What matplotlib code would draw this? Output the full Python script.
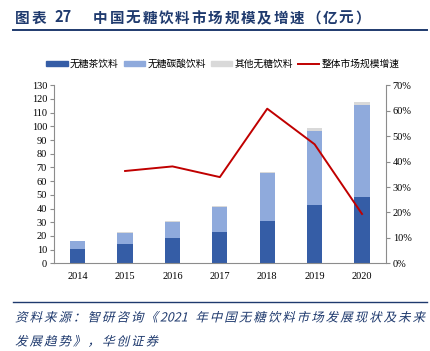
import matplotlib
matplotlib.use("Agg")
import re
import matplotlib.pyplot as plt
from matplotlib.patches import Patch
from matplotlib.lines import Line2D
from matplotlib.patheffects import AbstractPathEffect
from matplotlib.transforms import Affine2D
from matplotlib.textpath import TextToPath
from matplotlib.font_manager import FontProperties
import numpy as np

plt.rcParams['font.family'] = ['Noto Sans CJK SC', 'DejaVu Sans']

years = ['2014', '2015', '2016', '2017', '2018', '2019', '2020']
tea = [10.2, 14.1, 18.3, 22.9, 30.9, 42.4, 48.4]
carbonated = [5.9, 7.8, 11.9, 18.0, 34.8, 54.5, 67.0]
other = [0.5, 0.7, 0.7, 1.0, 1.0, 1.9, 2.4]
growth_years = ['2015', '2016', '2017', '2018', '2019', '2020']
growth = [36.3, 38.1, 33.9, 60.8, 46.8, 19.4]

c_tea = '#355DA6'
c_carb = '#8FAADC'
c_other = '#D9D9D9'
c_line = '#C00000'
c_text = '#1F3A6E'
c_axis = '#8C8C8C'

W, H = 430, 351

class Skew(AbstractPathEffect):
    def __init__(self, deg=14):
        super().__init__()
        self.deg = deg
    def draw_path(self, renderer, gc, tpath, affine, rgbFace=None):
        renderer.draw_path(gc, tpath, Affine2D().skew_deg(self.deg, 0) + affine, rgbFace)

_t2p = TextToPath()

def spaced_text(fig, x0, x1, ybase, s, fontsize, weight='normal', skew=None, **kw):
    fp = FontProperties(family='Noto Sans CJK SC', size=fontsize, weight=weight)
    tokens = re.findall(r'[0-9]+|.', s)
    widths = []
    for tk in tokens:
        if tk == ' ':
            widths.append(fontsize * 0.3 * 100 / 72)
        else:
            wpt, _, _ = _t2p.get_text_width_height_descent(tk, fp, ismath=False)
            widths.append(wpt * 100 / 72)
    natural = sum(widths)
    extra = (x1 - x0 - natural) / max(len(tokens) - 1, 1)
    cx = x0
    for tk, wd in zip(tokens, widths):
        if tk != ' ':
            t = fig.text(cx / W, 1 - ybase / H, tk, fontproperties=fp, va='baseline', ha='left', **kw)
            if skew:
                t.set_path_effects([Skew(skew)])
        cx += wd + extra

fig = plt.figure(figsize=(4.3, 3.51), dpi=100)
ax = fig.add_axes([54/W, 1-263.3/H, (385.7-54)/W, (263.3-85.3)/H])

x = np.arange(len(years))
w = 0.32
b1 = np.array(tea)
b2 = b1 + np.array(carbonated)
ax.bar(x, tea, w, color=c_tea, zorder=2)
ax.bar(x, carbonated, w, bottom=b1, color=c_carb, zorder=2)
ax.bar(x, other, w, bottom=b2, color=c_other, zorder=2)

ax.set_xlim(-0.5, 6.5)
ax.set_ylim(0, 130)
ax.set_yticks(np.arange(0, 131, 10))
ax.set_xticks(x)
ax.set_xticklabels(years, fontfamily='Liberation Serif', fontsize=7.5)
for lab in ax.get_yticklabels():
    lab.set_fontfamily('Liberation Serif')
    lab.set_fontsize(7.5)
ax.tick_params(axis='x', length=0, pad=6)
ax.tick_params(axis='y', length=3, color=c_axis, pad=2)
for s in ['top', 'right']:
    ax.spines[s].set_visible(False)
for s in ['left', 'bottom']:
    ax.spines[s].set_color(c_axis)
    ax.spines[s].set_linewidth(0.8)

ax2 = ax.twinx()
gx = [years.index(y) for y in growth_years]
ax2.plot(gx, growth, color=c_line, lw=1.4, zorder=3)
ax2.set_ylim(0, 70)
ax2.set_yticks(np.arange(0, 71, 10))
ax2.set_yticklabels([f'{v}%' for v in range(0, 71, 10)], fontfamily='Liberation Serif', fontsize=7.5)
ax2.tick_params(axis='y', length=3, color=c_axis, pad=2)
for s in ['top', 'left', 'bottom']:
    ax2.spines[s].set_visible(False)
ax2.spines['right'].set_color(c_axis)
ax2.spines['right'].set_linewidth(0.8)

handles = [Patch(color=c_tea), Patch(color=c_carb), Patch(color=c_other),
           Line2D([], [], color=c_line, lw=1.4)]
labels = ['无糖茶饮料', '无糖碳酸饮料', '其他无糖饮料', '整体市场规模增速']
fig.legend(handles, labels, loc='center', bbox_to_anchor=(223/W, 1-64/H), ncol=4,
           frameon=False, fontsize=7, handlelength=2.2, handleheight=0.55,
           handletextpad=0.25, columnspacing=0.5, borderpad=0)

# title
spaced_text(fig, 15, 72, 22.5, '图表 27', 10.5, weight='bold', color=c_text)
spaced_text(fig, 93, 370, 22.5, '中国无糖饮料市场规模及增速（亿元）', 10.5, weight='bold', color=c_text)
fig.add_artist(Line2D([13/W, 427/W], [1-29.5/H, 1-29.5/H], color=c_text, lw=1.4))
fig.add_artist(Line2D([13/W, 427/W], [1-302/H, 1-302/H], color=c_text, lw=1.0))

src1 = '资料来源：智研咨询《2021 年中国无糖饮料市场发展现状及未来'
src2 = '发展趋势》，华创证券'
spaced_text(fig, 15, 425, 321.5, src1, 9, skew=14, color=c_text)
spaced_text(fig, 15, 158, 345.5, src2, 9, skew=14, color=c_text)

fig.savefig('out.png', dpi=100)
